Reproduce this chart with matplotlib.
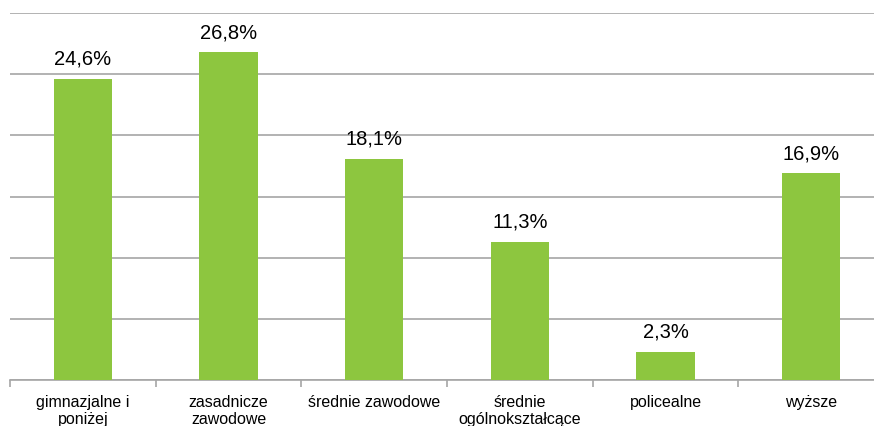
import matplotlib.pyplot as plt
import numpy as np

categories = ["gimnazjalne i\nponiżej", "zasadnicze\nzawodowe", "średnie zawodowe",
              "średnie\nogólnokształcące", "policealne", "wyższe"]
values = [24.6, 26.8, 18.1, 11.3, 2.3, 16.9]
value_labels = ["24,6%", "26,8%", "18,1%", "11,3%", "2,3%", "16,9%"]

plt.rcParams['font.family'] = ['Liberation Sans', 'DejaVu Sans']

fig = plt.figure(figsize=(8.74, 4.27), dpi=100)
ax = fig.add_axes([10 / 874, 46 / 427, 874 / 874, 367 / 427])

x = np.arange(len(values))
ax.bar(x, values, width=0.4, color="#8DC63F", zorder=3)

for xi, v, lab in zip(x, values, value_labels):
    ax.annotate(lab, (xi, v), xytext=(0, 8), textcoords="offset points",
                ha="center", va="bottom", fontsize=14.5, color="black")

ax.set_xlim(-0.5, len(values) - 0.5)
ax.set_ylim(0, 30)
ax.set_yticks(np.arange(0, 31, 5))
ax.yaxis.grid(True, color="#A6A6A6", linewidth=1.2, zorder=0)
ax.tick_params(axis="y", left=False, labelleft=False)

# category labels centred, ticks on the boundaries
ax.set_xticks(x)
ax.set_xticklabels(categories, fontsize=11.5, linespacing=1.15)
ax.tick_params(axis="x", length=0, pad=10)
ax.set_xticks(np.arange(-0.5, len(values)), minor=True)
ax.tick_params(axis="x", which="minor", length=5, color="#A6A6A6", width=1.2)

for s in ["top", "right", "left"]:
    ax.spines[s].set_visible(False)
ax.spines["bottom"].set_color("#A6A6A6")
ax.spines["bottom"].set_linewidth(1.2)

fig.savefig("out.png", dpi=100)
